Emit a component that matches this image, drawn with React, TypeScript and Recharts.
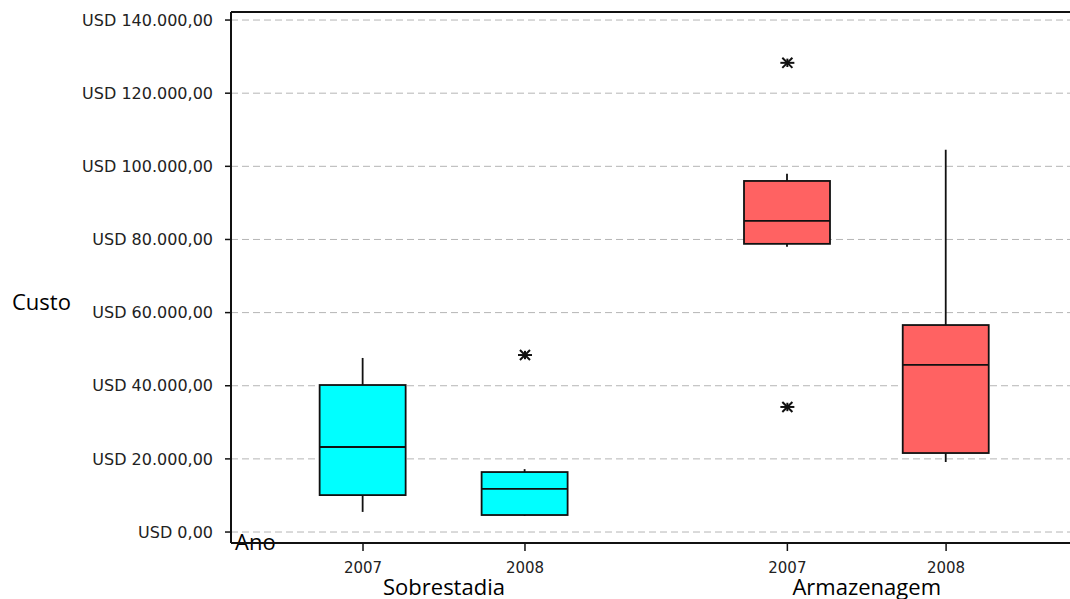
import React from 'react';
import { ComposedChart, Bar, Scatter, XAxis, YAxis, CartesianGrid, Customized, ReferenceLine } from 'recharts';

// ---- data ----
const groupNames = ['Sobrestadia', 'Armazenagem'];
const yearLabels = ['2007', '2008', '2007', '2008'];
const boxGroup = [0, 0, 1, 1];
const xPositions = [0, 1, 2.62, 3.6];
const boxMin = [5500, 4400, 78000, 19150];
const boxQ1 = [10100, 4650, 78800, 21600];
const boxMedian = [23250, 11800, 85100, 45700];
const boxQ3 = [40200, 16400, 96000, 56600];
const boxMax = [47600, 17200, 97950, 104500];
const boxColors = ['#00FFFF', '#00FFFF', '#FF6262', '#FF6262'];
const outlierX = [1, 2.62, 2.62];
const outlierY = [48400, 128300, 34200];
const yTicks = [0, 20000, 40000, 60000, 80000, 100000, 120000, 140000];
const yDomain = [-3000, 142200];
const xDomain = [-0.815, 4.365];

const rows = xPositions.map((x, i) => ({
  x,
  min: boxMin[i],
  q1: boxQ1[i],
  median: boxMedian[i],
  q3: boxQ3[i],
  max: boxMax[i],
  color: boxColors[i],
}));
const outliers = outlierX.map((x, i) => ({ x, y: outlierY[i] }));
const groupCenters = groupNames.map((_, g) => {
  const xs = xPositions.filter((_, i) => boxGroup[i] === g);
  return (Math.min(...xs) + Math.max(...xs)) / 2;
});

const fmtUSD = (v: number) => {
  const int = Math.round(v).toString().replace(/\B(?=(\d{3})+(?!\d))/g, '.');
  return `USD ${int},00`;
};

const BoxShape = (props: any) => {
  const { x, y, width, height, payload } = props;
  if (x == null || y == null) return null;
  const { min, max, q1, q3, median, color } = payload;
  const span = max - min || 1;
  const yOf = (v: number) => y + ((max - v) / span) * height;
  const cx = x + width / 2;
  const yq1 = yOf(q1);
  const yq3 = yOf(q3);
  const ym = yOf(median);
  return (
    <g>
      <line x1={cx} x2={cx} y1={y} y2={y + height} stroke="#111" strokeWidth={1.8} />
      <rect x={x} y={yq3} width={width} height={yq1 - yq3} fill={color} stroke="#111" strokeWidth={1.8} />
      <line x1={x} x2={x + width} y1={ym} y2={ym} stroke="#111" strokeWidth={1.8} />
    </g>
  );
};

const StarShape = (props: any) => {
  const { cx, cy } = props;
  if (cx == null || cy == null) return null;
  const r = 7;
  const d = r * 0.72;
  return (
    <g stroke="#111" strokeWidth={2}>
      <line x1={cx - r} x2={cx + r} y1={cy} y2={cy} />
      <line x1={cx} x2={cx} y1={cy - r * 0.6} y2={cy + r * 0.6} />
      <line x1={cx - d} x2={cx + d} y1={cy - d} y2={cy + d} />
      <line x1={cx - d} x2={cx + d} y1={cy + d} y2={cy - d} />
    </g>
  );
};

const Titles = () => (
  <g fontFamily="'Open Sans', sans-serif" fontSize={22} fill="#000">
    <text x={12} y={310}>Custo</text>
    <text x={235} y={550}>Ano</text>
  </g>
);

export default function App() {
  return (
    <div style={{ position: 'absolute', left: 0, top: 0, width: 1070, height: 599, background: '#fff' }}>
      <ComposedChart
        width={1070}
        height={599}
        data={rows}
        margin={{ top: 12, right: 0, bottom: 0, left: 0 }}
      >
        <CartesianGrid xAxisId="a1years" horizontal vertical={false} stroke="#b5b5b5" strokeDasharray="7 4" horizontalValues={yTicks} />
        <XAxis
          xAxisId="a1years"
          dataKey="x"
          type="number"
          domain={xDomain}
          allowDataOverflow
          ticks={xPositions}
          interval={0}
          tickFormatter={(v: number) => yearLabels[xPositions.indexOf(v)] ?? ''}
          height={24}
          tickSize={8}
          tickMargin={11}
          axisLine={{ stroke: '#111', strokeWidth: 2 }}
          tickLine={{ stroke: '#111', strokeWidth: 1.5 }}
          tick={{ fill: '#222', fontSize: 15, fontFamily: "'DejaVu Sans', sans-serif" }}
        />
        <XAxis
          xAxisId="b2groups"
          dataKey="x"
          type="number"
          domain={xDomain}
          allowDataOverflow
          ticks={groupCenters}
          interval={0}
          tickFormatter={(v: number) => groupNames[groupCenters.indexOf(v)] ?? ''}
          height={32}
          tickSize={0}
          tickMargin={12}
          axisLine={false}
          tickLine={false}
          tick={{ fill: '#000', fontSize: 22, fontFamily: "'Open Sans', sans-serif" }}
        />
        <YAxis
          type="number"
          domain={yDomain}
          allowDataOverflow
          ticks={yTicks}
          interval={0}
          width={231}
          tickSize={6}
          tickMargin={12}
          tickFormatter={fmtUSD}
          axisLine={{ stroke: '#111', strokeWidth: 2 }}
          tickLine={{ stroke: '#111', strokeWidth: 1.5 }}
          tick={{ fill: '#222', fontSize: 16, fontFamily: "'DejaVu Sans', sans-serif" }}
        />
        <ReferenceLine xAxisId="a1years" y={yDomain[1]} stroke="#111" strokeWidth={2} />
        <Bar
          xAxisId="a1years"
          dataKey={(d: any) => [d.min, d.max]}
          barSize={86}
          shape={<BoxShape />}
          isAnimationActive={false}
        />
        <Scatter
          xAxisId="a1years"
          data={outliers}
          dataKey="y"
          shape={<StarShape />}
          isAnimationActive={false}
        />
        <Customized component={Titles} />
      </ComposedChart>
    </div>
  );
}
